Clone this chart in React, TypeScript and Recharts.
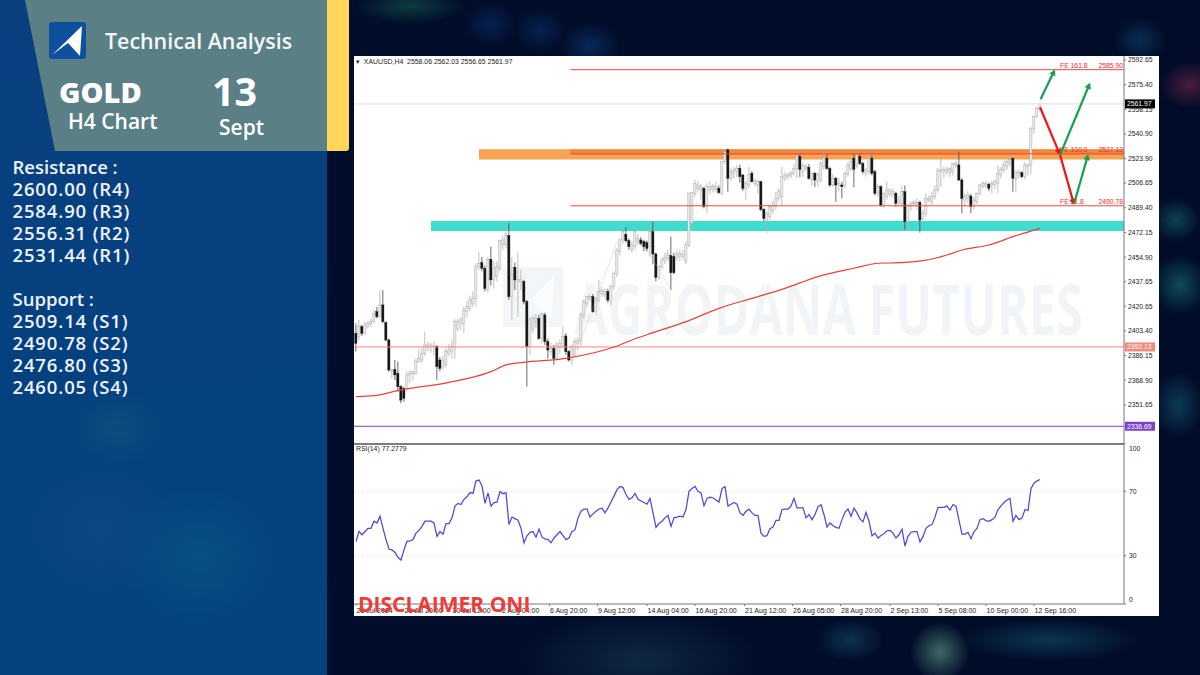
import { Bar, ComposedChart, Line, LineChart, ReferenceArea, ReferenceLine, XAxis, YAxis } from "recharts";

const opens = [2401.7,2399.3,2406.3,2401.7,2406.3,2408.2,2409.8,2416.8,2413.3,2421.5,2409.1,2397,2374.9,2376.5,2373.7,2364.4,2363.2,2363.2,2372.6,2373.3,2373.7,2381.9,2383,2387.7,2392.4,2392.4,2392.4,2392.4,2383,2378.4,2379.6,2387.7,2388.9,2392.4,2405.2,2408.7,2408.7,2416.8,2419.1,2422.6,2426.1,2448.3,2451,2447.1,2432.4,2453.4,2439,2441.3,2447.1,2463.4,2463.4,2469.9,2427.3,2447.8,2437.8,2437.8,2437.8,2423.8,2392.4,2404.5,2409.8,2412,2398.2,2414.5,2395.9,2388.9,2391,2384.2,2392.4,2392.4,2399.8,2388.9,2383,2386.5,2394.7,2395.9,2414.5,2422.6,2426.1,2427.3,2416.8,2424.9,2429.6,2428.5,2430.8,2423.8,2434.3,2443.6,2458.7,2466.9,2470.8,2466.4,2459.9,2462.2,2465.7,2466.9,2465.7,2465,2462.2,2472.7,2457.1,2440.8,2448.3,2452.4,2454.1,2455.9,2455.2,2454.8,2455.2,2455.2,2451.7,2463.4,2478.5,2499.5,2503,2501.8,2503,2490.2,2501.8,2502.3,2502.3,2503,2499.5,2521.6,2529.8,2510,2513.5,2514.6,2516.9,2512.3,2503,2505.3,2513.5,2506.5,2505.3,2507.6,2488.3,2480.8,2483.2,2487.8,2490.6,2496,2497.2,2509.9,2511.1,2511.6,2513.5,2516.9,2525.1,2514.6,2516.9,2517.7,2508.8,2513.5,2507.6,2508.8,2518.1,2523.9,2516.9,2505.3,2510,2505.1,2505.3,2504.6,2513,2516.9,2523.9,2519.3,2525.1,2520.4,2513.5,2514.6,2523.9,2514.6,2499.5,2504.1,2491.3,2497.2,2499,2498.3,2499.5,2493,2492.5,2500.6,2479.7,2490.2,2492,2492,2493,2482,2485.5,2494.8,2493.7,2497.2,2501.8,2514.6,2513.9,2514.6,2513.9,2514.6,2519.3,2519.3,2508.8,2494.8,2496,2497.6,2490.2,2493.7,2499.5,2504.6,2504.6,2505.8,2505.3,2505.3,2506.5,2512.3,2515.8,2518.1,2520.4,2523.9,2510,2513,2513.9,2511.1,2518.1,2519.3,2544.9,2553,2558.06];
const highs = [2408.7,2411,2407.5,2409.8,2410,2412,2417.9,2420,2431.9,2431.9,2410,2398,2377,2383,2381.9,2365.5,2364.4,2374.9,2376,2375,2384,2391,2392,2402.8,2395.8,2395,2396,2393.5,2385,2386,2391,2394,2397,2411.5,2412,2413,2420,2424,2428,2431,2450.6,2458.7,2455,2449,2455,2462.2,2452,2452,2467,2470,2478.5,2478.5,2455,2451,2458.7,2446,2439,2425,2413,2414,2415,2414.5,2416,2416,2398,2395,2393.5,2395.8,2397,2406.3,2401.7,2390,2394,2398,2399,2416,2425,2428,2429,2429,2427,2438.9,2434,2433,2432.8,2436,2445,2461,2468,2476,2476,2468,2466,2474,2471,2469,2467,2466.5,2479.7,2479.7,2458,2449,2455,2458,2460,2469.2,2458,2460,2460,2460,2466,2500,2500,2509,2508,2506,2504,2506.5,2508,2506,2507.6,2505,2522,2530.9,2530.9,2517,2518,2519.4,2519.4,2513,2508,2518,2515,2510,2509,2508.3,2489,2487,2491,2494,2500.6,2503,2518,2514,2514,2515,2520,2527,2527,2521,2520,2520,2514.6,2514.6,2514,2522,2528.6,2527,2518,2513,2511,2510,2507.6,2514.6,2521,2524,2527,2528,2527.4,2521.5,2517,2527.4,2526,2516,2506,2505,2500,2507.6,2503,2503,2500.6,2498,2505,2505,2492,2494,2495,2496,2494.3,2488,2499.5,2498,2500.6,2505,2517,2524,2518,2518,2518,2521,2522,2528.6,2510,2499.5,2501,2499,2497,2500,2506,2508,2508,2507,2508,2509,2519,2518,2522,2523,2528.6,2524.6,2515,2516,2515,2521,2520.4,2546,2554,2560,2562.03];
const lows = [2388.9,2397,2399.8,2400.5,2405,2406,2409,2412,2412,2408.7,2396,2374.9,2370,2369,2361,2352.8,2353.9,2362,2367,2369,2372.6,2381,2381,2386,2389,2388,2386,2369,2375,2376,2378,2386,2384,2384,2403,2404,2402,2413,2417,2420,2420.3,2446,2445,2430.8,2430,2435,2433,2438,2445,2460,2461,2425,2411,2432,2413,2432,2422,2364.4,2386.5,2402,2405,2397,2395,2393.5,2384,2386.5,2379.6,2383,2387,2391,2386.5,2381.9,2379.6,2385,2390,2392,2412,2420,2424,2416,2415,2423,2427,2426,2423,2421,2432,2441,2456,2464,2465,2460,2458,2460,2463,2463,2459,2459,2455,2450,2438,2439,2446,2450,2452,2432,2443,2452,2452,2453,2450,2462,2476,2497,2500,2495,2489,2485.5,2499,2500,2500,2499,2498,2520,2500.6,2508,2510,2511,2507,2501,2494.8,2503,2507,2504,2499,2487,2480,2471.5,2481,2485,2488,2494,2490.6,2508,2509,2510,2512,2510,2510.7,2511,2515,2509,2505,2504,2504,2507,2516,2516,2504,2504,2493.7,2501,2496,2503,2511,2515,2503.7,2517,2519,2513,2511,2513,2512,2498,2497,2490,2489,2495,2497,2496,2490,2490,2490,2473.9,2473.9,2487,2490,2488,2472,2479,2483,2493,2491,2495,2500,2504,2510,2512,2511,2512,2517,2508,2485.5,2490,2493,2485.5,2488,2492,2498,2503,2503,2501,2499.5,2502,2499.5,2510,2514,2516,2518,2500.6,2500.6,2510,2510,2509,2512,2513,2541,2551.9,2556.65];
const closes = [2394.7,2406.3,2401.7,2407.5,2408.7,2409.8,2415.6,2413.3,2421.5,2409.8,2397,2376,2376,2372.6,2364.4,2355,2356.3,2372.6,2374,2374.9,2381.9,2384.2,2387.7,2393.5,2393.5,2393.5,2392.8,2378.4,2377.2,2383,2388.9,2390,2392.4,2409.8,2409.8,2411,2417.9,2420.3,2424.9,2426.1,2448.3,2450.6,2447.1,2433.1,2453.4,2439,2447.1,2448.3,2466.4,2466.9,2470.4,2427.3,2442.4,2439,2439.4,2439,2423.8,2392.4,2411,2412,2412,2398.2,2415.6,2395.9,2390,2391,2384.2,2393.5,2394.7,2399.3,2388.9,2383,2392.4,2395.9,2397,2414.5,2423.8,2427.3,2427.3,2416.8,2426.1,2430.8,2431.5,2430.8,2424.9,2434.3,2443.6,2459.9,2466.9,2472.7,2466.4,2462.2,2463.4,2472.7,2468,2464.5,2462.2,2461,2472.7,2457.1,2440.8,2448.3,2452.9,2454.8,2456.4,2444,2444,2457.1,2457.6,2457.1,2463.4,2499.5,2499.9,2506.5,2505.3,2504.1,2490.2,2504.1,2504.1,2504.1,2504.1,2500,2521.6,2528.6,2510,2514.6,2515.8,2516.9,2511.1,2503,2506.5,2512.3,2507.6,2508.3,2507.6,2488.3,2482,2485.5,2490.2,2491.3,2496,2500.6,2511.1,2512.3,2512.3,2513.5,2516.9,2525.6,2516.3,2519.3,2518.1,2510,2513.5,2508.8,2513,2520.4,2524.6,2516.9,2505.3,2510,2505.3,2506.5,2504.1,2513.5,2519.3,2521.6,2516.3,2526.3,2520.4,2514.6,2515.8,2523.9,2513.5,2499.5,2504.1,2491.3,2499.5,2501.8,2501.8,2500.6,2492.5,2494.8,2500.6,2479.7,2491.3,2492.5,2493,2493,2480.8,2485.5,2496,2496,2497.2,2501.8,2515.8,2515.8,2516.3,2516.3,2516.9,2520.4,2520.4,2508.8,2496,2497.2,2498.3,2490.2,2494.8,2499.5,2505.3,2506.5,2506.5,2503,2506.5,2507.6,2513.5,2516.3,2519.3,2521.6,2523.2,2510,2514.6,2513.9,2511.1,2519.3,2519.3,2544.9,2553,2558.9,2561.97];

const rsi = [38.8,45,43,45,47,47,51.4,50.3,54.5,47,40,34,33.6,32,29,27.3,33.6,39,39,40,44,45.7,48.2,51.4,51.4,51.4,50.3,42,45,43.4,50,50,53.5,60.8,62.5,61.8,65,66.6,69.2,68.7,76.5,77,73.4,62.5,69,60.8,63,63.3,69.8,68.5,69,49.3,54,53,52,47,38,42.4,44.5,45,41.5,46.5,41.5,40.5,40,38,41,43,45,42.4,40,41,45,46,53.5,57.6,59,59,54,56,57.6,59,59.5,56.6,59.7,63.3,67,71,73,72.3,68,65,66,68.7,65,64,63,62,65.6,56.6,47.6,50,51.4,53.5,55,48.2,53.5,54,54.5,54,58.7,70,71.7,73,70,69,61,65.6,66.4,66,64.6,63.3,71.7,73,60.8,62,63,62,56.6,55,57.6,59,56.6,55,55,44,42,42.4,46.8,47.8,52,52,58.7,59,59,60.8,65.6,59.7,59.7,59.7,53.5,55.6,52.4,55.6,60.4,61.6,55.6,47.8,50.3,48.6,47.6,47,52.4,57,59,54.5,59.5,56.6,52.8,51,57,51.4,42.4,44,41,42.6,43.6,45.5,45.7,44,41,43,46.5,36,42,44.6,45,45,38.6,42,47,48.6,49.3,54,60,60,60,60.8,58.3,61.8,60.8,52,43.4,43.4,44.5,40.5,45,47,52.4,53,51.8,51.4,52.4,53.9,58.7,61,63,64.6,65.6,51.4,55,52.4,53.5,58.7,58,71.7,75,76.5,77.3];

// 200 MA read at the bars where it could be seen clearly
const maBars = [0,6,15,31,45,50,56,70,87,92,99,110,121,132,143,154,166,174,181,189,197,202,211,219,228];
const maValues = [2357.4,2358.1,2362.1,2367.4,2374.9,2379.6,2381.4,2384.2,2392.8,2397,2402.1,2409.8,2419.1,2426.1,2433.1,2441.3,2447.1,2450.6,2451,2452.4,2456.4,2459.9,2463.4,2469.2,2475];

const priceTicks = [2592.65,2575.4,2558.15,2540.9,2523.9,2506.65,2489.4,2472.15,2454.9,2437.65,2420.65,2403.4,2386.15,2368.9,2351.65];
const rsiTicks = [100,70,30,0];
const timeTickBars = [0,16,32,48.5,64.5,80.5,97,113,129.5,145.5,161.5,178,194,210,226];
const timeLabels = ["23 Jul 2024","25 Jul 20:00","30 Jul 12:00","2 Aug 04:00","6 Aug 20:00","9 Aug 12:00","14 Aug 04:00","16 Aug 20:00","21 Aug 12:00","26 Aug 05:00","28 Aug 20:00","2 Sep 13:00","5 Sep 08:00","10 Sep 00:00","12 Sep 16:00"];

const fibNames = ["FE 161.8","FE 100.0","FE 61.8"];
const fibValues = [2585.9,2527.12,2490.78];
const resistance = ["2600.00 (R4)","2584.90 (R3)","2556.31 (R2)","2531.44 (R1)"];
const support = ["2509.14 (S1)","2490.78 (S2)","2476.80 (S3)","2460.05 (S4)"];

const redArrows = [[228,2559.6,234.7,2526.3],[234.7,2526.3,239.4,2491.3]];
const greenArrows = [[228.2,2565.2,233,2586.1],[234.7,2526.3,244.7,2576.8],[239.4,2492.5,244.1,2527]];
const fibFaintLines = [[75,2397,87,2465.7],[97,2459.9,105,2431.9]];

const rows = opens.map((open, i) => ({
  bar: i,
  open,
  high: highs[i],
  low: lows[i],
  close: closes[i],
  range: [lows[i], highs[i]],
  rsi: rsi[i],
  ma: maBars.includes(i) ? maValues[maBars.indexOf(i)] : null,
}));

const xDomain = [-0.667, 256];
const sans = "'Liberation Sans', Arial, sans-serif";
const heading = "'Open Sans', sans-serif";

function Candle(props: any) {
  const { x, y, width, height, payload } = props;
  const cx = x + width / 2;
  const perUnit = height / (payload.high - payload.low);
  const top = y + (payload.high - Math.max(payload.open, payload.close)) * perUnit;
  const bodyH = Math.max(Math.abs(payload.open - payload.close) * perUnit, 0.8);
  const up = payload.close >= payload.open;
  return (
    <g>
      <line x1={cx} x2={cx} y1={y} y2={y + height} stroke={up ? "#b0b0b0" : "#444"} strokeWidth={0.8} />
      <rect x={cx - 1.1} y={top} width={2.2} height={bodyH} fill={up ? "#e8e8e8" : "#161616"} stroke={up ? "#a4a4a4" : "#161616"} strokeWidth={0.4} />
    </g>
  );
}

function Arrow(color: string) {
  return (p: any) => {
    const a = Math.atan2(p.y2 - p.y1, p.x2 - p.x1);
    const s = 7;
    const pts = [
      [p.x2, p.y2],
      [p.x2 - s * Math.cos(a - 0.5), p.y2 - s * Math.sin(a - 0.5)],
      [p.x2 - s * Math.cos(a + 0.5), p.y2 - s * Math.sin(a + 0.5)],
    ];
    return (
      <g>
        <line x1={p.x1} y1={p.y1} x2={p.x2 - 3 * Math.cos(a)} y2={p.y2 - 3 * Math.sin(a)} stroke={color} strokeWidth={2.2} />
        <polygon points={pts.map((q) => q.join(",")).join(" ")} fill={color} />
      </g>
    );
  };
}

function FibLine(name: string, value: number) {
  return (p: any) => (
    <g fontFamily={sans} fontSize={6.8} fill="#f02c2c">
      <line x1={p.x1} y1={p.y1} x2={p.x2} y2={p.y2} stroke="#ef4a44" strokeWidth={1} />
      <text x={p.x2 - 64} y={p.y1 - 2}>{name}</text>
      <text x={p.x2 - 1} y={p.y1 - 2} textAnchor="end">{value.toFixed(2)}</text>
    </g>
  );
}

function PriceTag(value: number, color: string, bg: string, text: string) {
  return (p: any) => {
    const right = Math.max(p.x1, p.x2);
    return (
      <g>
        <line x1={p.x1} y1={p.y1} x2={p.x2} y2={p.y2} stroke={color} strokeWidth={1} />
        <rect x={right + 1} y={p.y1 - 4.5} width={30} height={9} fill={bg} />
        <text x={right + 3} y={p.y1 + 2.5} fontFamily={sans} fontSize={6.8} fill={text}>{value.toFixed(2)}</text>
      </g>
    );
  };
}

function TimeTick(props: any) {
  const { x, y, payload } = props;
  const label = timeLabels[timeTickBars.indexOf(payload.value)];
  return (
    <text x={x + 0.5} y={y + 5} fontFamily={sans} fontSize={7} fill="#222">{label}</text>
  );
}

function RsiTick(props: any) {
  const { x, y, payload } = props;
  // the platform keeps the end labels inside the pane
  const dy = payload.value === 100 ? 8 : payload.value === 0 ? -2 : 2.5;
  return (
    <text x={x + 1} y={y + dy} fontFamily={sans} fontSize={6.8} fill="#222">{payload.value}</text>
  );
}

const abs = (left: number, top: number, extra: any = {}) => ({ position: "absolute", left, top, ...extra });

const darkBackdrop = [
  "radial-gradient(ellipse 30px 24px at 1190px 85px, #4a1c3c 0, transparent 100%)",
  "radial-gradient(ellipse 24px 22px at 1176px 220px, #0e4453 0, transparent 100%)",
  "radial-gradient(ellipse 28px 30px at 1180px 285px, #0f4a5a 0, transparent 100%)",
  "radial-gradient(ellipse 26px 34px at 1178px 405px, #0c3a56 0, transparent 100%)",
  "radial-gradient(ellipse 30px 30px at 940px 652px, #3c6866 0, transparent 100%)",
  "radial-gradient(ellipse 90px 22px at 1050px 640px, #0c3550 0, transparent 100%)",
  "radial-gradient(ellipse 34px 22px at 850px 640px, #0c3350 0, transparent 100%)",
  "radial-gradient(ellipse 55px 18px at 410px 6px, #0c3c40 0, transparent 100%)",
  "radial-gradient(ellipse 26px 22px at 490px 24px, #06224f 0, transparent 100%)",
  "radial-gradient(ellipse 26px 22px at 540px 30px, #06224f 0, transparent 100%)",
  "radial-gradient(ellipse 30px 24px at 590px 46px, #08285a 0, transparent 100%)",
  "radial-gradient(ellipse 26px 24px at 1140px 40px, #0a2c50 0, transparent 100%)",
  "radial-gradient(ellipse 120px 50px at 640px 660px, #0e2742 0, transparent 100%)",
  "linear-gradient(90deg, #020e2c, #010c28)",
].join(", ");

const blueBackdrop = [
  "radial-gradient(ellipse 50px 40px at 118px 428px, #0c4c7c 0, transparent 100%)",
  "radial-gradient(ellipse 80px 70px at 198px 555px, #075084 0, transparent 100%)",
  "radial-gradient(ellipse 80px 70px at 100px 530px, #0f4684 0, transparent 100%)",
  "linear-gradient(180deg, #0a3f80, #04417f 60%, #03447f)",
].join(", ");

export default function App() {
  return (
    <div style={{ position: "fixed", left: 0, top: 0, width: 1200, height: 675, overflow: "hidden", background: "#020e2c" } as any}>
      {/* backdrop */}
      <div style={abs(0, 0, { width: 1200, height: 675, background: darkBackdrop })} />
      <div style={abs(0, 0, { width: 327, height: 675, background: blueBackdrop })} />

      {/* header card */}
      <div style={abs(25, 0, { width: 302, height: 151, background: "#5a7f85", clipPath: "polygon(0 0, 100% 0, 100% 100%, 30px 100%)" })} />
      <div style={abs(327, 0, { width: 22, height: 151, background: "#ffd65a", borderBottomRightRadius: 3 })} />
      <svg style={abs(49, 22) as any} width={37} height={37}>
        <rect width={37} height={37} rx={3} fill="#0e4f9e" />
        <polygon points="33,4 31,34 19,21 3,33" fill="#fff" />
      </svg>
      <div style={abs(105, 26, { font: `600 21.4px ${heading}`, color: "#f4f7f7", whiteSpace: "nowrap" })}>Technical Analysis</div>
      <div style={abs(59, 72, { font: `800 29px ${heading}`, color: "#fff" })}>GOLD</div>
      <div style={abs(68, 107, { font: `600 21px ${heading}`, color: "#fff", whiteSpace: "nowrap" })}>H4 Chart</div>
      <div style={abs(212, 64, { font: `700 39.5px ${heading}`, color: "#fff" })}>13</div>
      <div style={abs(219, 113, { font: `600 21px ${heading}`, color: "#fff" })}>Sept</div>

      {/* levels list */}
      <div style={abs(12.5, 156, { font: `600 18.5px/22px ${heading}`, color: "#eef3f8", whiteSpace: "nowrap" })}>
        <div>Resistance :</div>
        {resistance.map((r) => <div key={r} style={{ letterSpacing: 0.85 }}>{r}</div>)}
        <div style={{ height: 22 }} />
        <div>Support :</div>
        {support.map((s) => <div key={s} style={{ letterSpacing: 0.85 }}>{s}</div>)}
      </div>

      {/* chart window */}
      <div style={abs(354, 56, { width: 805, height: 560, background: "#fff" })} />
      <svg style={abs(503, 267) as any} width={60} height={60}>
        <rect width={60} height={60} fill="#f3f6f8" />
        <polygon points="52,8 48,52 30,34 8,52" fill="#fbfcfd" />
      </svg>
      <div style={abs(574, 260, { font: `700 48.6px ${heading}`, color: "#f2f5f8", whiteSpace: "nowrap", transform: "scaleY(1.45)", transformOrigin: "left top" })}>AGRODANA FUTURES</div>

      <div style={abs(354, 56)}>
        <ComposedChart width={805} height={387} data={rows} margin={{ top: 0, right: 0, bottom: 0, left: 0 }}>
          <XAxis dataKey="bar" type="number" domain={xDomain} allowDataOverflow hide />
          <YAxis
            orientation="right"
            width={35}
            domain={[2325, 2595.45]}
            allowDataOverflow
            ticks={priceTicks}
            interval={0}
            tick={{ fontSize: 6.8, fill: "#222", fontFamily: sans }}
            tickFormatter={(v: number) => v.toFixed(2)}
            tickSize={2}
            stroke="#777"
          />
          <ReferenceLine y={2561.97} shape={PriceTag(2561.97, "#dddddd", "#000", "#fff")} />
          <ReferenceLine y={2392.13} shape={PriceTag(2392.13, "#f2897a", "#f2897a", "#fff")} />
          <ReferenceLine y={2336.69} shape={PriceTag(2336.69, "#7b3fd0", "#7b3fd0", "#fff")} />
          <ReferenceArea x1={41} x2={256} y1={2523.2} y2={2530.2} fill="#f6a354" fillOpacity={1} stroke="none" />
          <ReferenceArea x1={71.5} x2={256} y1={2526.4} y2={2530.2} fill="#ee7a30" fillOpacity={0.65} stroke="none" />
          <Line dataKey="ma" type="monotone" connectNulls dot={false} stroke="#e8423c" strokeWidth={1.2} isAnimationActive={false} />
          {fibFaintLines.map((l, i) => (
            <ReferenceLine key={i} segment={[{ x: l[0], y: l[1] }, { x: l[2], y: l[3] }]} stroke="#f0a090" strokeWidth={0.7} strokeDasharray="1 1" />
          ))}
          <Bar dataKey="range" barSize={3} isAnimationActive={false} shape={Candle} />
          <ReferenceArea x1={25} x2={256} y1={2473.2} y2={2480.2} fill="#36dccb" fillOpacity={0.96} stroke="none" />
          {fibNames.map((n, i) => (
            <ReferenceLine key={n} segment={[{ x: 71.5, y: fibValues[i] }, { x: 256, y: fibValues[i] }]} shape={FibLine(n, fibValues[i])} />
          ))}
          {redArrows.map((a, i) => (
            <ReferenceLine key={i} segment={[{ x: a[0], y: a[1] }, { x: a[2], y: a[3] }]} shape={Arrow("#f01414")} />
          ))}
          {greenArrows.map((a, i) => (
            <ReferenceLine key={i} segment={[{ x: a[0], y: a[1] }, { x: a[2], y: a[3] }]} shape={Arrow("#12a150")} />
          ))}
        </ComposedChart>
      </div>
      <div style={abs(354, 443, { width: 770, height: 1.5, background: "#7d7d7d" })} />

      <div style={abs(354, 443)}>
        <LineChart width={805} height={173} data={rows} margin={{ top: 0, right: 0, bottom: 0, left: 0 }}>
          <XAxis
            dataKey="bar"
            type="number"
            domain={xDomain}
            allowDataOverflow
            ticks={timeTickBars}
            interval={0}
            height={12}
            tick={TimeTick}
            tickSize={2}
            stroke="#777"
          />
          <YAxis
            orientation="right"
            width={35}
            domain={[0, 100]}
            ticks={rsiTicks}
            interval={0}
            tick={RsiTick}
            tickSize={2}
            stroke="#777"
          />
          <ReferenceLine y={70} stroke="#e8e8e8" strokeDasharray="2 2" />
          <ReferenceLine y={30} stroke="#e8e8e8" strokeDasharray="2 2" />
          <Line dataKey="rsi" dot={false} stroke="#5048d8" strokeWidth={1.25} isAnimationActive={false} />
        </LineChart>
      </div>

      <div style={abs(356, 58, { font: `6.9px ${sans}`, color: "#222", whiteSpace: "pre" })}>{"▾  XAUUSD,H4  2558.06 2562.03 2556.65 2561.97"}</div>
      <div style={abs(356, 445, { font: `6.9px ${sans}`, color: "#222", whiteSpace: "pre" })}>RSI(14) 77.2779</div>
      <div style={abs(358, 590, { font: `700 21px ${heading}`, color: "#ef3a3a", whiteSpace: "nowrap" })}>DISCLAIMER ONI</div>
    </div>
  );
}
